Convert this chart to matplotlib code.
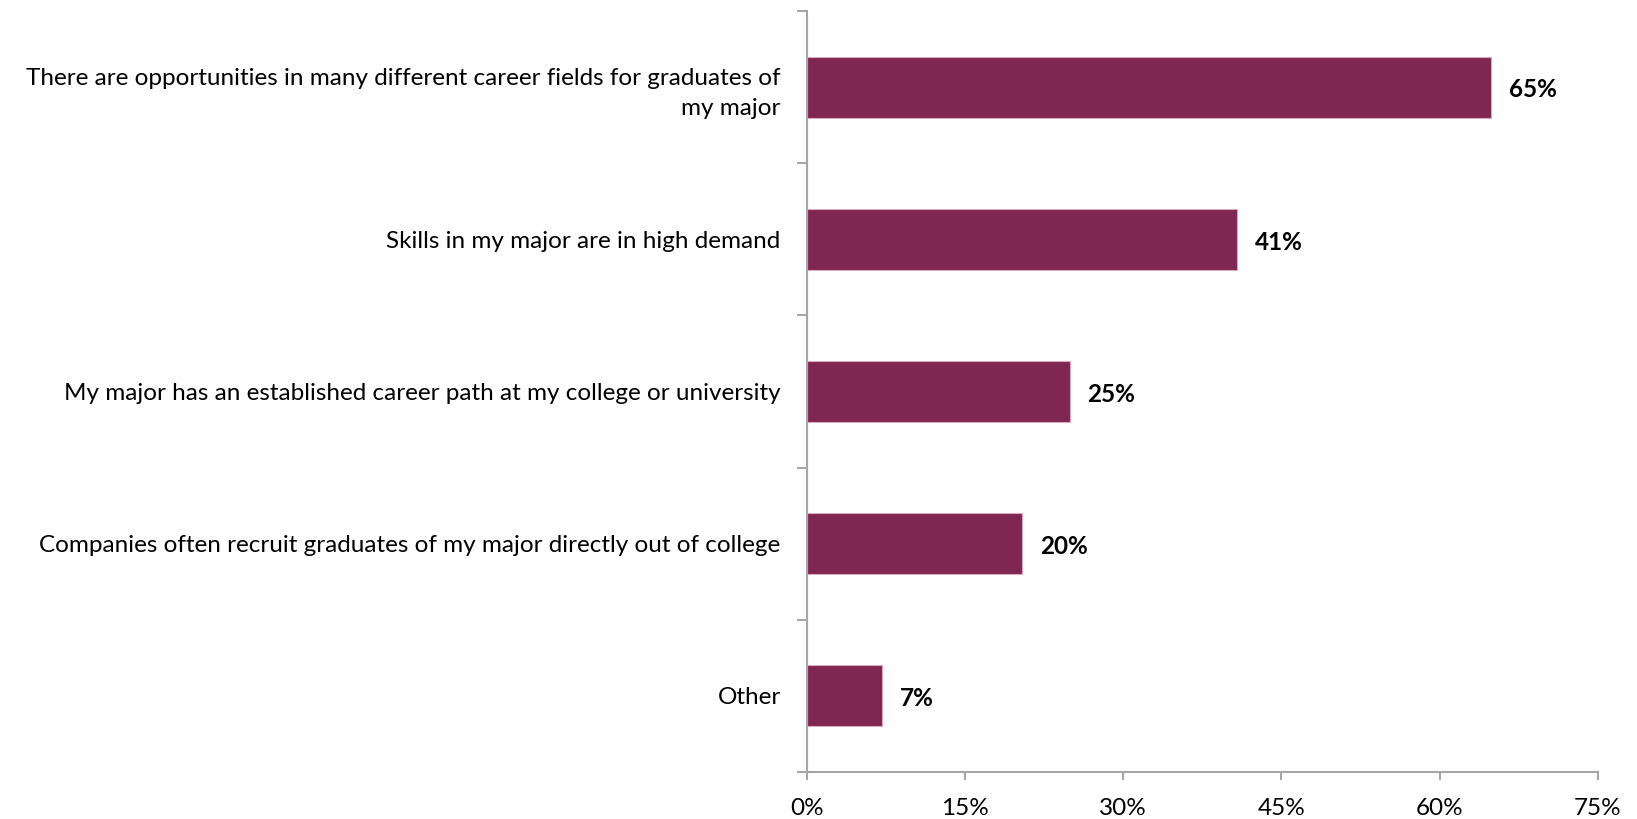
import matplotlib
matplotlib.use("Agg")
import matplotlib.pyplot as plt
from matplotlib.ticker import FuncFormatter, FixedLocator

plt.rcParams['font.family'] = ['Lato', 'DejaVu Sans']

# survey responses, top to bottom
reasons = [
    "There are opportunities in many different career fields for graduates of\nmy major",
    "Skills in my major are in high demand",
    "My major has an established career path at my college or university",
    "Companies often recruit graduates of my major directly out of college",
    "Other",
]
shares = [64.9, 40.8, 24.9, 20.4, 7.1]
x_ticks = [0, 15, 30, 45, 60, 75]

bar_color = "#7F2652"
axis_color = "#A6A6A6"
font_size = 17.5

fig = plt.figure(figsize=(16.37, 8.19), dpi=100)
ax = fig.add_axes([0.493, 0.0574, 0.976 - 0.493, 0.9866 - 0.0574])

pos = list(range(len(reasons)))
ax.barh(pos, shares, height=0.4, color=bar_color, edgecolor="#D9A8BE", linewidth=0.8)

for y, v in zip(pos, shares):
    ax.annotate(f"{v:.0f}%", xy=(v, y), xytext=(13, -2), textcoords="offset points",
                ha="left", va="center", fontsize=font_size, fontweight="bold", color="black")

ax.set_xlim(0, 75)
ax.set_ylim(len(reasons) - 0.5, -0.5)

ax.set_xticks(x_ticks)
ax.xaxis.set_major_formatter(FuncFormatter(lambda v, _: f"{v:.0f}%"))
ax.tick_params(axis="x", direction="out", length=6, width=1.5, color=axis_color,
               labelsize=font_size, pad=13)

# category labels centred on the bars, tick marks drawn between categories
ax.set_yticks(pos)
ax.set_yticklabels(reasons, fontsize=font_size, linespacing=1.55)
ax.tick_params(axis="y", which="major", length=0, pad=19)
ax.yaxis.set_minor_locator(FixedLocator([p - 0.5 for p in pos] + [len(pos) - 0.5]))
ax.tick_params(axis="y", which="minor", direction="out", length=7, width=1.5, color=axis_color)

for side in ("top", "right"):
    ax.spines[side].set_visible(False)
for side in ("left", "bottom"):
    ax.spines[side].set_color(axis_color)
    ax.spines[side].set_linewidth(1.5)

fig.savefig("out.png", dpi=100)
